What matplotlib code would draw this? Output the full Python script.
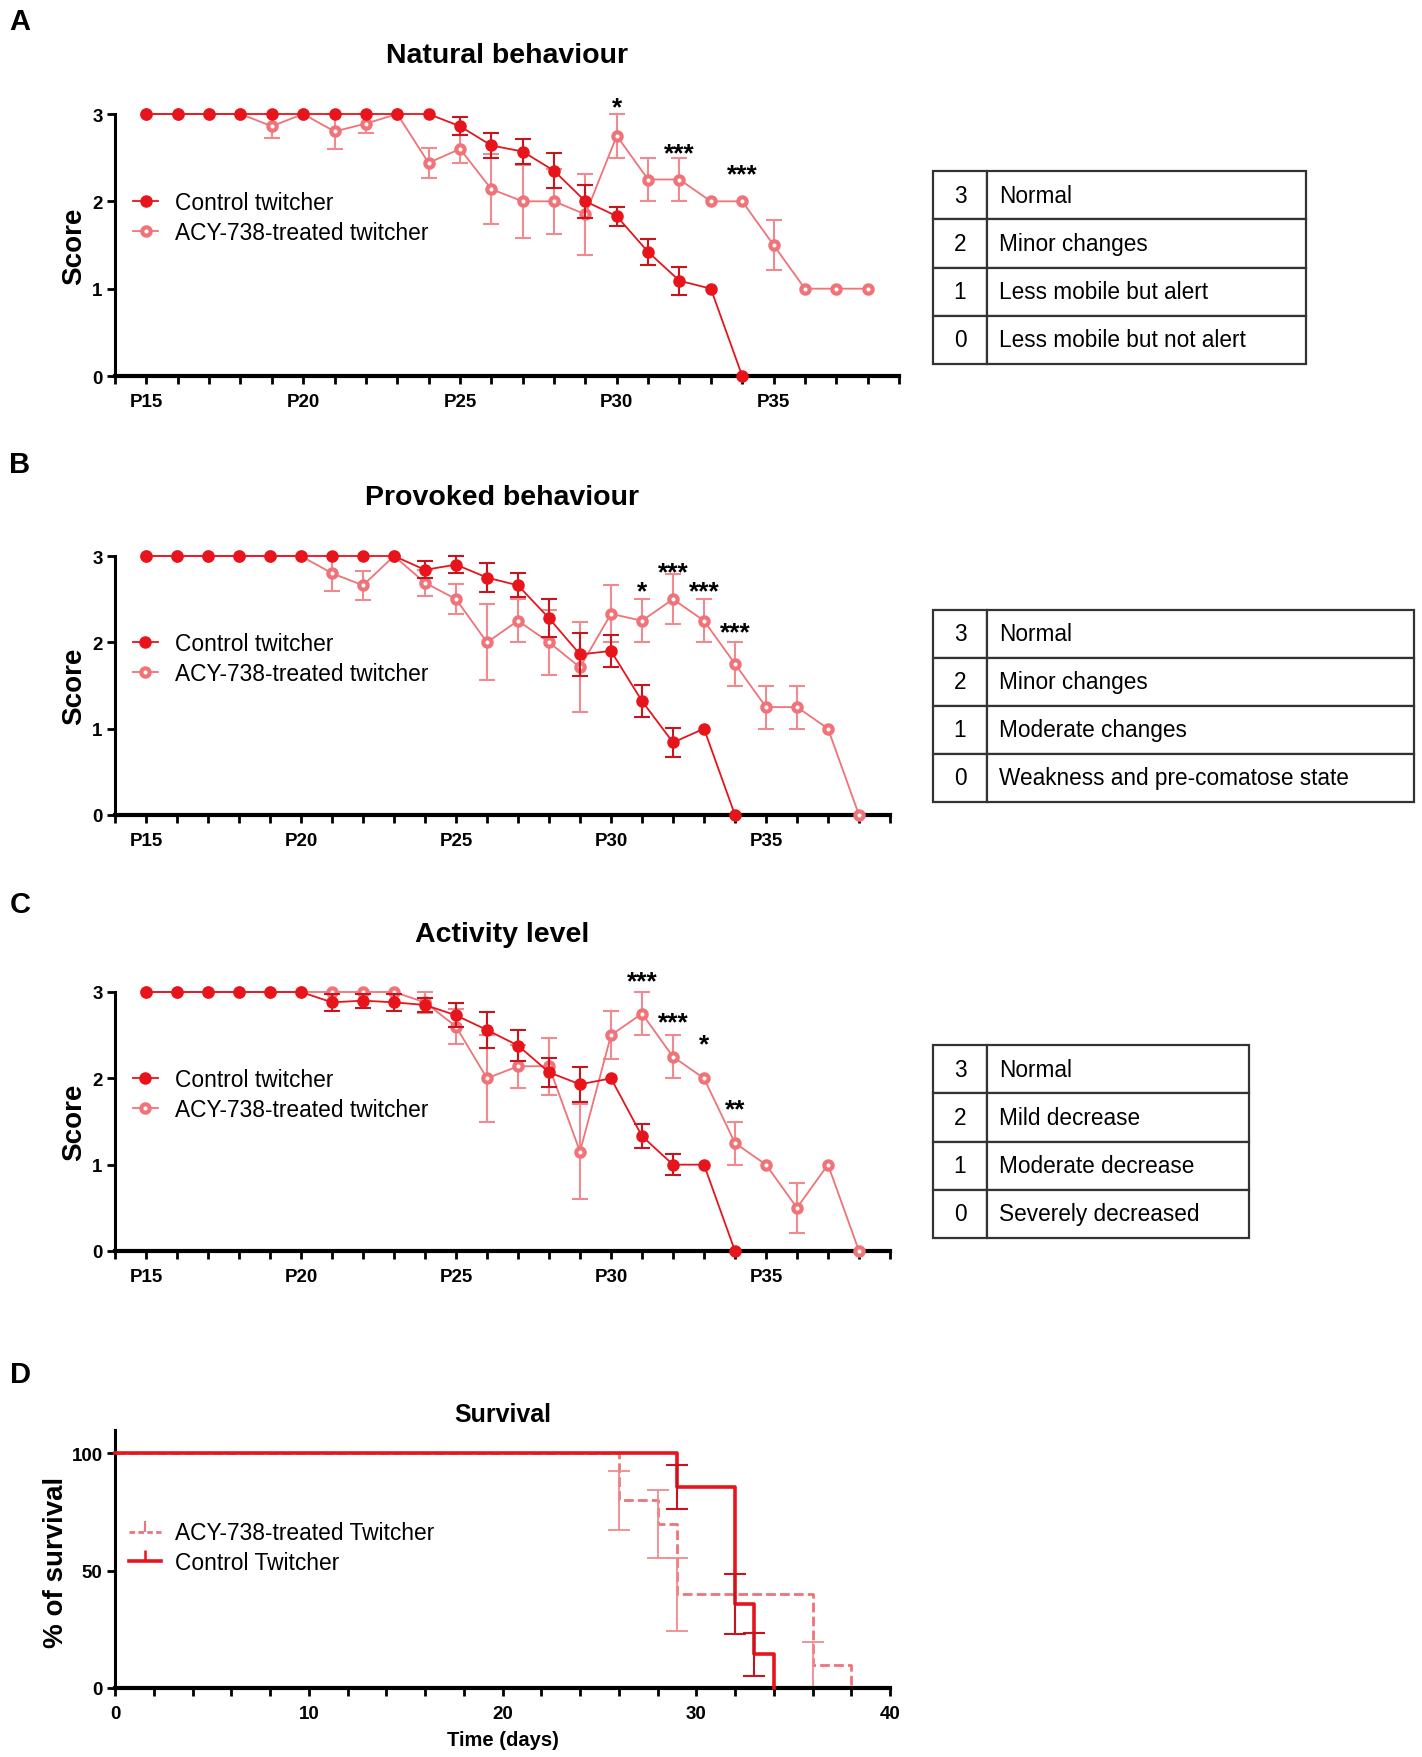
import numpy as np
import matplotlib
matplotlib.use('Agg')
import matplotlib.pyplot as plt
from matplotlib import font_manager
from matplotlib.lines import Line2D
from matplotlib.ticker import MultipleLocator

names = {f.name for f in font_manager.fontManager.ttflist}
NARROW = 'Liberation Sans Narrow' if 'Liberation Sans Narrow' in names else 'Liberation Sans'
plt.rcParams['font.family'] = ['Liberation Sans', 'DejaVu Sans']

RED = '#e8141c'
RED_ERR = '#c8141c'
PINK = '#ef7378'
PINK_ERR = '#f08a8e'

# ---- data ----
days_ctrl = [15, 16, 17, 18, 19, 20, 21, 22, 23, 24, 25, 26, 27, 28, 29, 30, 31, 32, 33, 34]
days_acy = [15, 16, 17, 18, 19, 20, 21, 22, 23, 24, 25, 26, 27, 28, 29, 30, 31, 32, 33, 34,
            35, 36, 37, 38]

nat_ctrl = [3, 3, 3, 3, 3, 3, 3, 3, 3, 3, 2.86, 2.64, 2.57, 2.35, 2.0, 1.83, 1.42, 1.09, 1.0, 0.0]
nat_ctrl_sem = [0, 0, 0, 0, 0, 0, 0, 0, 0, 0, 0.1, 0.14, 0.14, 0.2, 0.19, 0.11, 0.15, 0.16, 0, 0]
nat_acy = [3, 3, 3, 3, 2.86, 3, 2.8, 2.89, 3, 2.44, 2.6, 2.14, 2.0, 2.0, 1.85, 2.75, 2.25, 2.25,
           2.0, 2.0, 1.5, 1.0, 1.0, 1.0]
nat_acy_sem = [0, 0, 0, 0, 0.14, 0, 0.2, 0.11, 0, 0.17, 0.16, 0.4, 0.42, 0.37, 0.46, 0.25, 0.25,
               0.25, 0, 0, 0.29, 0, 0, 0]

pro_ctrl = [3, 3, 3, 3, 3, 3, 3, 3, 3, 2.84, 2.9, 2.75, 2.66, 2.28, 1.86, 1.9, 1.32, 0.84, 1.0, 0.0]
pro_ctrl_sem = [0, 0, 0, 0, 0, 0, 0, 0, 0, 0.1, 0.1, 0.17, 0.14, 0.22, 0.25, 0.18, 0.19, 0.17, 0, 0]
pro_acy = [3, 3, 3, 3, 3, 3, 2.8, 2.66, 3, 2.69, 2.5, 2.0, 2.25, 2.0, 1.71, 2.33, 2.25, 2.5, 2.25,
           1.75, 1.25, 1.25, 1.0, 0.0]
pro_acy_sem = [0, 0, 0, 0, 0, 0, 0.2, 0.17, 0, 0.15, 0.17, 0.44, 0.25, 0.38, 0.52, 0.33, 0.25,
               0.29, 0.25, 0.25, 0.25, 0.25, 0, 0]

act_ctrl = [3, 3, 3, 3, 3, 3, 2.88, 2.9, 2.88, 2.85, 2.73, 2.56, 2.38, 2.07, 1.93, 2.0, 1.33, 1.0,
            1.0, 0.0]
act_ctrl_sem = [0, 0, 0, 0, 0, 0, 0.1, 0.08, 0.1, 0.08, 0.14, 0.21, 0.18, 0.17, 0.2, 0, 0.14, 0.12,
                0, 0]
act_acy = [3, 3, 3, 3, 3, 3, 3, 3, 3, 2.88, 2.6, 2.0, 2.14, 2.14, 1.15, 2.5, 2.75, 2.25, 2.0, 1.25,
           1.0, 0.5, 1.0, 0.0]
act_acy_sem = [0, 0, 0, 0, 0, 0, 0, 0, 0, 0.12, 0.2, 0.5, 0.25, 0.33, 0.55, 0.28, 0.25, 0.25, 0,
               0.25, 0, 0.29, 0, 0]

# significance marks: day, label, centre of the glyphs (score units)
nat_stars = [(30, '*', 3.17), (32, '***', 2.64), (34, '***', 2.40)]
pro_stars = [(31, '*', 2.68), (32, '***', 2.91), (33, '***', 2.68), (34, '***', 2.21)]
act_stars = [(31, '***', 3.22), (32, '***', 2.74), (33, '*', 2.49), (34, '**', 1.74)]

nat_table = [['3', 'Normal'], ['2', 'Minor changes'], ['1', 'Less mobile but alert'],
             ['0', 'Less mobile but not alert']]
pro_table = [['3', 'Normal'], ['2', 'Minor changes'], ['1', 'Moderate changes'],
             ['0', 'Weakness and pre-comatose state']]
act_table = [['3', 'Normal'], ['2', 'Mild decrease'], ['1', 'Moderate decrease'],
             ['0', 'Severely decreased']]

# survival (Kaplan-Meier steps) and SE at each drop
surv_ctrl_t = [0, 29, 32, 33, 34]
surv_ctrl = [100, 85.7, 35.7, 14.3, 0]
surv_ctrl_se = [0, 9.4, 12.8, 9.3, 0]
surv_acy_t = [0, 26, 28, 29, 36, 38]
surv_acy = [100, 80, 70, 40, 10, 0]
surv_acy_se = [0, 12.7, 14.6, 15.5, 9.8, 0]

W, H = 1422, 1758
fig = plt.figure(figsize=(W / 100, H / 100), dpi=100)

STAR_FS = 19


def frac(l, t, r, b):
    return [l / W, 1 - b / H, (r - l) / W, (b - t) / H]


def style_axes(ax):
    for s in ['top', 'right']:
        ax.spines[s].set_visible(False)
    ax.spines['left'].set_linewidth(2.2)
    ax.spines['bottom'].set_linewidth(3.0)
    ax.tick_params(axis='both', which='both', width=2, length=6, pad=3)
    ax.tick_params(axis='x', which='both', pad=6)
    for lab in ax.get_xticklabels() + ax.get_yticklabels():
        lab.set_fontfamily(NARROW)
        lab.set_fontweight('bold')
        lab.set_fontsize(13.5)


def score_panel(rect, ctrl, ctrl_sem, acy, acy_sem, stars):
    ax = fig.add_axes(rect)
    dc, da = np.array(days_ctrl), np.array(days_acy)
    cs, as_ = np.array(ctrl_sem), np.array(acy_sem)
    ma = as_ > 0
    ax.errorbar(da[ma], np.array(acy)[ma], yerr=as_[ma], fmt='none', ecolor=PINK_ERR,
                elinewidth=1.5, capsize=6, capthick=1.5, clip_on=False, zorder=2)
    ax.plot(da, acy, '-', color=PINK, lw=1.3, marker='o', ms=6, mfc='white', mec=PINK,
            mew=3, clip_on=False, zorder=3, label='ACY-738-treated twitcher')
    mc = cs > 0
    ax.errorbar(dc[mc], np.array(ctrl)[mc], yerr=cs[mc], fmt='none', ecolor=RED_ERR,
                elinewidth=1.5, capsize=6, capthick=1.5, clip_on=False, zorder=4)
    ax.plot(dc, ctrl, '-', color=RED, lw=1.3, marker='o', ms=8, mfc=RED, mec=RED,
            clip_on=False, zorder=5, label='Control twitcher')
    for d, s, y in stars:
        ax.annotate(s, (d, y), xytext=(0, -0.575 * STAR_FS), textcoords='offset points',
                    ha='center', va='baseline', fontsize=STAR_FS, fontweight='bold',
                    annotation_clip=False)
    ax.set_xlim(14, 39)
    ax.set_ylim(0, 3)
    ax.set_yticks([0, 1, 2, 3])
    ax.set_xticks([15, 20, 25, 30, 35])
    ax.set_xticklabels(['P15', 'P20', 'P25', 'P30', 'P35'])
    ax.xaxis.set_minor_locator(MultipleLocator(1))
    style_axes(ax)
    ax.set_ylabel('Score', fontsize=20, fontweight='bold')
    ax.yaxis.set_label_coords(-0.036, 0.5)
    h, l = ax.get_legend_handles_labels()
    ax.legend(h[::-1], l[::-1], loc='center left', bbox_to_anchor=(0.023, 0.605),
              frameon=False, fontsize=16.4, handlelength=1.1, handletextpad=0.75,
              labelspacing=0.3, borderpad=0, borderaxespad=0)
    return ax


def score_table(rect, rows, col0):
    ax = fig.add_axes(rect)
    ax.axis('off')
    tb = ax.table(cellText=rows, colWidths=[col0, 1 - col0], bbox=[0, 0, 1, 1])
    tb.auto_set_font_size(False)
    tb.set_fontsize(16.3)
    for (r, c), cell in tb.get_celld().items():
        cell.set_linewidth(1.6)
        cell.set_edgecolor('#333333')
        if c == 0:
            cell.get_text().set_ha('center')
            cell._loc = 'center'
        else:
            cell._loc = 'left'
            cell.PAD = 12.0 / (rect[2] * W * (1 - col0))
            cell.get_text().set_ha('left')


score_panel(frac(115, 115, 899, 377), nat_ctrl, nat_ctrl_sem, nat_acy, nat_acy_sem, nat_stars)
score_panel(frac(115, 557, 890, 816), pro_ctrl, pro_ctrl_sem, pro_acy, pro_acy_sem, pro_stars)
score_panel(frac(115, 993, 890, 1252), act_ctrl, act_ctrl_sem, act_acy, act_acy_sem, act_stars)

score_table(frac(933, 172, 1306, 365), nat_table, 54 / 373)
score_table(frac(933, 611, 1414, 803), pro_table, 54 / 481)
score_table(frac(933, 1046, 1249, 1239), act_table, 54 / 316)

# ---- survival ----
axd = fig.add_axes(frac(115, 1431, 890, 1689))
axd.step(surv_acy_t, surv_acy, where='post', color=PINK, lw=2, ls=(0, (3.5, 1.5)),
         clip_on=False, zorder=2)
sa = np.array(surv_acy_se)
m = sa > 0
axd.errorbar(np.array(surv_acy_t)[m], np.array(surv_acy)[m], yerr=sa[m], fmt='none',
             ecolor=PINK_ERR, elinewidth=1.3, capsize=8, capthick=1.3, zorder=2)
axd.step(surv_ctrl_t, surv_ctrl, where='post', color=RED, lw=2.6, clip_on=False, zorder=3)
sc = np.array(surv_ctrl_se)
m = sc > 0
axd.errorbar(np.array(surv_ctrl_t)[m], np.array(surv_ctrl)[m], yerr=sc[m], fmt='none',
             ecolor=RED_ERR, elinewidth=1.5, capsize=8, capthick=1.5, zorder=3)
axd.set_xlim(0, 40)
axd.set_ylim(0, 110)
axd.set_xticks([0, 10, 20, 30, 40])
axd.set_yticks([0, 50, 100])
axd.xaxis.set_minor_locator(MultipleLocator(2))
style_axes(axd)
axd.set_ylabel('% of survival', fontsize=20, fontweight='bold')
axd.yaxis.set_label_coords(-0.059, 0.49)
axd.set_xlabel('Time (days)', fontsize=14.5, fontweight='bold', fontfamily=NARROW, labelpad=6)
handles = [Line2D([], [], color=PINK, lw=2, ls=(0, (2, 1.2)), marker=2, ms=8, mew=1.5),
           Line2D([], [], color=RED, lw=2.6, marker=2, ms=8, mew=1.8)]
axd.legend(handles, ['ACY-738-treated Twitcher', 'Control Twitcher'], loc='center left',
           bbox_to_anchor=(0.018, 0.543), frameon=False, fontsize=16.4, handlelength=1.4,
           handletextpad=0.6, labelspacing=0.3, borderpad=0, borderaxespad=0)

# ---- titles and panel letters ----
titles = [(507, 56, 'Natural behaviour', 20.5), (502, 498, 'Provoked behaviour', 20.5),
          (502, 935, 'Activity level', 20.5), (503, 1415, 'Survival', 18)]
for x, y, t, fs in titles:
    fig.text(x / W, 1 - y / H, t, ha='center', va='center', fontsize=fs, fontweight='bold')
for x, y, t in [(20, 22, 'A'), (20, 465, 'B'), (20, 905, 'C'), (20, 1375, 'D')]:
    fig.text(x / W, 1 - y / H, t, ha='center', va='center', fontsize=21, fontweight='bold')

fig.savefig('out.png', dpi=100)
